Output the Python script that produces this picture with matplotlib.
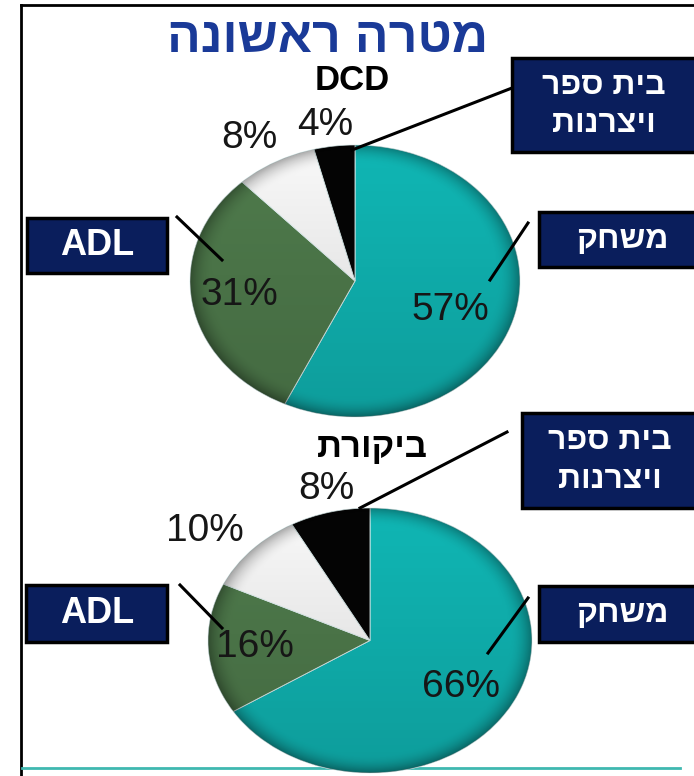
import numpy as np
import matplotlib
matplotlib.use('Agg')
import matplotlib.pyplot as plt
from matplotlib.patches import Rectangle, Circle

W, H = 694, 776
FONTS = ['Liberation Sans', 'DejaVu Sans']

# ---- data ----
title = 'מטרה ראשונה'
pie_titles = ['DCD', 'ביקורת']
categories = ['משחק', 'ADL', '', 'בית ספר\nויצרנות']
dcd_values = [57, 31, 8, 4]
control_values = [66, 16, 10, 8]
slice_colours = ['#10B6B4', '#4F7B4C', '#F8F8F8', '#050505']

navy = '#0A1E5C'
text_dark = '#161616'


def heb(s):
    # matplotlib has no bidi, so flip each line of Hebrew text
    if not any('\u0590' <= ch <= '\u05ff' for ch in s):
        return s
    return '\n'.join(line[::-1] for line in s.split('\n'))


def px_axes(fig, x0, y0, x1, y1, z):
    return fig.add_axes([x0 / W, 1 - y1 / H, (x1 - x0) / W, (y1 - y0) / H], zorder=z)


# ---- layout (pixels, y down) ----
pies = [
    {'values': dcd_values, 'box': (190, 145, 520, 417), 'title_xy': (352, 81),
     # label positions in pie radius units
     'pct_xy': [(0.58, -0.21), (-0.70, -0.10), (-0.64, 1.05), (-0.18, 1.15)],
     'cat_boxes': {0: (539, 212, 705, 267), 1: (27, 218, 167, 273), 3: (512, 58, 705, 152)},
     'cat_text_x': {0: 622, 1: 97, 3: 604},
     'leaders': {0: ((528, 223), (490, 280)), 1: ((177, 217), (222, 260)),
                 3: ((512, 88), (352, 150))}},
    {'values': control_values, 'box': (208, 508, 532, 773), 'title_xy': (372, 447),
     'pct_xy': [(0.56, -0.35), (-0.71, -0.05), (-1.02, 0.83), (-0.27, 1.14)],
     'cat_boxes': {0: (539, 586, 705, 642), 1: (26, 585, 167, 642), 3: (522, 413, 705, 508)},
     'cat_text_x': {0: 622, 1: 97, 3: 610},
     'leaders': {0: ((528, 598), (488, 653)), 1: ((180, 585), (222, 628)),
                 3: ((507, 432), (360, 508))}},
]

fig = plt.figure(figsize=(W / 100, H / 100), dpi=100)

# background: frame lines
bg = px_axes(fig, 0, 0, W, H, 0)
bg.set_xlim(0, W)
bg.set_ylim(H, 0)
bg.axis('off')
bg.plot([21, 21], [5, H], color='black', lw=2)
bg.plot([21, W], [5, 5], color='black', lw=2)
bg.plot([22, 680], [768, 768], color='#3FB8B0', lw=2)

# shading array for a bit of the 3D look
ny = nx = 240
xx, yy = np.meshgrid(np.linspace(-1, 1, nx), np.linspace(1, -1, ny))
rr = np.hypot(xx, yy)
shade = np.zeros((ny, nx, 4))
shade[..., 3] = 0.14 * (1 - yy) / 2 + 0.30 * np.clip((rr - 0.86) / 0.14, 0, 1) ** 2

for p in pies:
    ax = px_axes(fig, *p['box'], 1)
    wedges, _ = ax.pie(p['values'], colors=slice_colours, startangle=90, counterclock=False,
                       radius=1, wedgeprops={'edgecolor': '#DDEEEE', 'linewidth': 0.6})
    im = ax.imshow(shade, extent=(-1, 1, -1, 1), zorder=3, interpolation='bilinear', aspect='auto')
    im.set_clip_path(Circle((0, 0), 1, transform=ax.transData))
    ax.set_aspect('auto')
    ax.set_xlim(-1, 1)
    ax.set_ylim(-1, 1)
    ax.axis('off')
    for v, (lx, ly) in zip(p['values'], p['pct_xy']):
        ax.text(lx, ly, '%d%%' % v, ha='center', va='center', fontsize=28,
                color=text_dark, family=FONTS, zorder=5, clip_on=False)

# overlay: title, category boxes, leader lines
ov = px_axes(fig, 0, 0, W, H, 2)
ov.set_xlim(0, W)
ov.set_ylim(H, 0)
ov.axis('off')

ov.text(328, 39, heb(title), ha='center', va='center', fontsize=36, fontweight='bold',
        color='#1A3A98', family=FONTS)

for p, name in zip(pies, pie_titles):
    ov.text(p['title_xy'][0], p['title_xy'][1], heb(name), ha='center', va='center',
            fontsize=25, fontweight='bold', color='black', family=FONTS)
    for i, (x0, y0, x1, y1) in p['cat_boxes'].items():
        ov.add_patch(Rectangle((x0, y0), x1 - x0, y1 - y0, facecolor=navy,
                               edgecolor='black', lw=2.5, zorder=3))
        size = 26 if categories[i] == 'ADL' else 23
        ov.text(p['cat_text_x'][i], (y0 + y1) / 2, heb(categories[i]), ha='center',
                va='center', fontsize=size, fontweight='bold', color='white',
                family=FONTS, linespacing=1.35, zorder=4)
    for i, (a, b) in p['leaders'].items():
        ov.plot([a[0], b[0]], [a[1], b[1]], color='black', lw=2.2, zorder=2)

fig.savefig('out.png', dpi=100)
